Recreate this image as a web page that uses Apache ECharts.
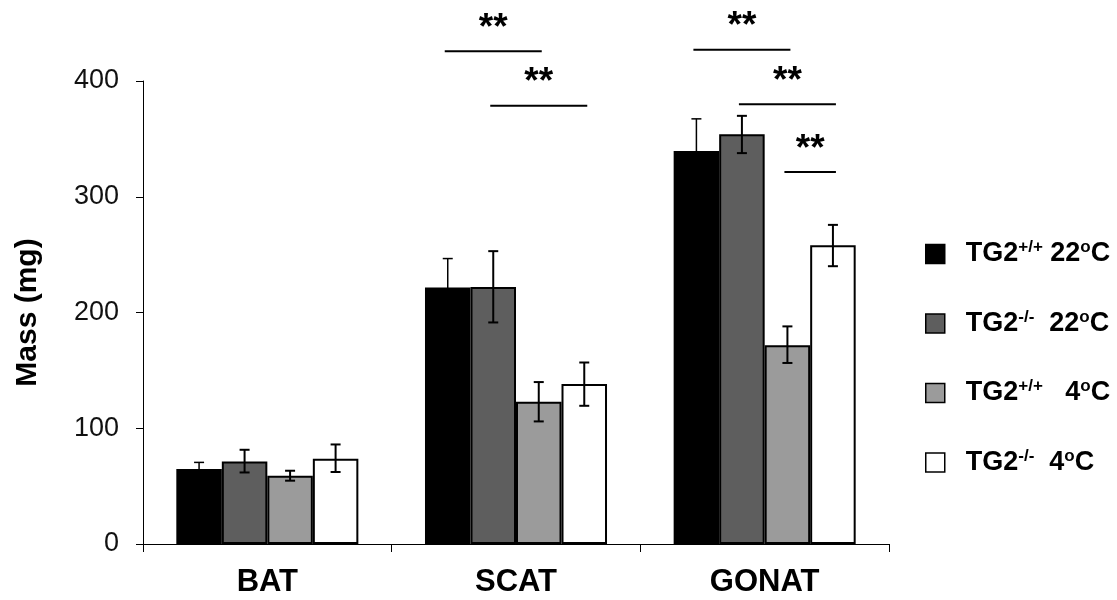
<!DOCTYPE html>
<html>
<head>
<meta charset="utf-8">
<script src="https://cdn.jsdelivr.net/npm/echarts@6/dist/echarts.min.js"></script>
<style>html,body{margin:0;padding:0;background:#fff}#c{width:1117px;height:600px}</style>
</head>
<body>
<div id="c"></div>
<script>
// ---- data ----
const categories = ['BAT', 'SCAT', 'GONAT'];
const seriesNames = ['TG2+/+ 22oC', 'TG2-/- 22oC', 'TG2+/+ 4oC', 'TG2-/- 4oC'];
const legendLabels = [
  '{f|TG2}{s|+/+}{a| 22}{s|o}{a|C}',
  '{f|TG2}{s|-/-}{a|  22}{s|o}{a|C}',
  '{f|TG2}{s|+/+}{a|   4}{s|o}{a|C}',
  '{f|TG2}{s|-/-}{a|  4}{s|o}{a|C}'
];
const wt22 = [64.8, 221.6, 339.6];
const ko22 = [71.3, 222.0, 354.0];
const wt4  = [59.0, 122.9, 171.6];
const ko4  = [73.7, 138.2, 258.2];
const wt22Hi = [70.5, 246.6, 367.3];
const wt22Lo = [59.1, 196.6, 311.9];
const ko22Hi = [81.4, 253.0, 369.9];
const ko22Lo = [61.8, 191.4, 337.7];
const wt4Hi  = [63.3, 139.9, 188.0];
const wt4Lo  = [54.7, 105.9, 156.4];
const ko4Hi  = [86.0, 156.8, 275.7];
const ko4Lo  = [62.2, 119.4, 240.0];
const yTicks = [0, 100, 200, 300, 400];
// significance brackets: category, from bar, to bar, level (mg), label
const sigCat   = [1, 1, 2, 2, 2];
const sigFrom  = [0, 1, 0, 1, 2];
const sigTo    = [2, 3, 2, 3, 3];
const sigLevel = [425.7, 378.6, 427.0, 380.0, 321.4];
const sigLabel = ['**', '**', '**', '**', '**'];

// ---- build ----
const values = [wt22, ko22, wt4, ko4];
const highs = [wt22Hi, ko22Hi, wt4Hi, ko4Hi];
const lows = [wt22Lo, ko22Lo, wt4Lo, ko4Lo];
const colors = ['#000000', '#5e5e5e', '#9b9b9b', '#ffffff'];
const GAP = 0.268;
const NB = 4;
const FONT = '"Liberation Sans", Arial, sans-serif';

function barX(api, cat, idx) {
  const c = api.coord([cat, 0]);
  const cw = api.size([1, 0])[0];
  const bw = cw * (1 - GAP) / NB;
  return c[0] + (idx - (NB - 1) / 2) * bw;
}

const errData = [];
for (let s = 0; s < NB; s++) {
  for (let k = 0; k < categories.length; k++) {
    errData.push([k, s, lows[s][k], highs[s][k]]);
  }
}
const sigData = sigCat.map((c, i) => [c, sigFrom[i], sigTo[i], sigLevel[i], i]);

const series = values.map((v, s) => ({
  name: seriesNames[s],
  type: 'bar',
  data: v,
  barGap: '0%',
  barCategoryGap: (GAP * 100) + '%',
  itemStyle: { color: colors[s], borderColor: '#000', borderWidth: s === 0 ? 0 : 2 },
  emphasis: { disabled: true },
  animation: false
}));

series.push({
  type: 'custom',
  name: 'err',
  data: errData,
  clip: false,
  z: 10,
  animation: false,
  renderItem: function (params, api) {
    const cat = api.value(0), s = api.value(1);
    const x = barX(api, cat, s);
    const yl = api.coord([cat, api.value(2)])[1];
    const yh = api.coord([cat, api.value(3)])[1];
    const lw = s === 0 ? 1.5 : 2;
    const cap = 5;
    const st = { stroke: '#000', lineWidth: lw };
    return {
      type: 'group',
      children: [
        { type: 'line', shape: { x1: x, y1: yl, x2: x, y2: yh }, style: st },
        { type: 'line', shape: { x1: x - cap, y1: yh, x2: x + cap, y2: yh }, style: st },
        { type: 'line', shape: { x1: x - cap, y1: yl, x2: x + cap, y2: yl }, style: st }
      ]
    };
  }
});

series.push({
  type: 'custom',
  name: 'sig',
  data: sigData,
  clip: false,
  z: 10,
  animation: false,
  renderItem: function (params, api) {
    const cat = api.value(0);
    const x1 = barX(api, cat, api.value(1)) - 3;
    const x2 = barX(api, cat, api.value(2)) + 3;
    const y = api.coord([cat, api.value(3)])[1];
    return {
      type: 'group',
      children: [
        { type: 'line', shape: { x1: x1, y1: y, x2: x2, y2: y }, style: { stroke: '#000', lineWidth: 2 } },
        { type: 'text', x: (x1 + x2) / 2, y: y - 4,
          style: { text: sigLabel[api.value(4)], fill: '#000', font: 'bold 37px ' + FONT,
                   align: 'center', verticalAlign: 'bottom' } }
      ]
    };
  }
});

const option = {
  backgroundColor: '#fff',
  animation: false,
  grid: { left: 143, right: 228, top: 81, bottom: 56, containLabel: false },
  legend: {
    data: seriesNames,
    orient: 'vertical',
    left: 920,
    top: 234,
    itemWidth: 19,
    itemHeight: 19,
    itemGap: 41,
    icon: 'rect',
    selectedMode: false,
    itemStyle: { borderColor: '#000', borderWidth: 1.5 },
    formatter: function (name) { return legendLabels[seriesNames.indexOf(name)]; },
    textStyle: {
      fontFamily: FONT,
      rich: {
        f: { fontSize: 27, fontWeight: 'bold', color: '#000', lineHeight: 30, padding: [0, 0, 0, 16], fontFamily: FONT },
        a: { fontSize: 27, fontWeight: 'bold', color: '#000', lineHeight: 30, fontFamily: FONT },
        s: { fontSize: 17, fontWeight: 'bold', color: '#000', lineHeight: 30, verticalAlign: 'top', fontFamily: FONT }
      }
    }
  },
  xAxis: {
    type: 'category',
    data: categories,
    axisLine: { lineStyle: { color: '#000', width: 1 } },
    axisTick: { show: true, length: 8, lineStyle: { color: '#000' } },
    axisLabel: { color: '#000', fontSize: 31, fontWeight: 'bold', fontFamily: FONT, margin: 23 },
    splitLine: { show: false }
  },
  yAxis: {
    type: 'value',
    min: 0,
    max: 400,
    interval: 100,
    name: 'Mass (mg)',
    nameLocation: 'middle',
    nameRotate: 90,
    nameGap: 100,
    nameTextStyle: { color: '#000', fontSize: 30, fontWeight: 'bold', fontFamily: FONT },
    axisLine: { show: true, lineStyle: { color: '#000', width: 1 } },
    axisTick: { show: true, length: 7, lineStyle: { color: '#000' } },
    axisLabel: { color: '#111', fontSize: 27, fontFamily: FONT, margin: 24,
                 formatter: function (v) { return yTicks.indexOf(v) >= 0 ? String(v) : ''; } },
    splitLine: { show: false }
  },
  series: series
};

const chart = echarts.init(document.getElementById('c'), null, { renderer: 'canvas' });
chart.setOption(option);
</script>
</body>
</html>
